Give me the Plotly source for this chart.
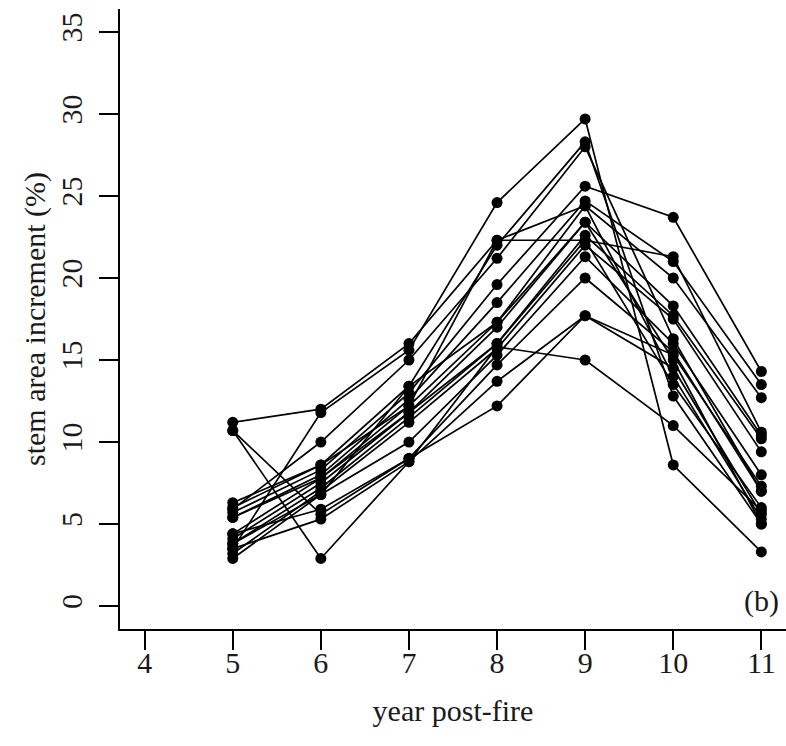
import plotly.graph_objects as go

years = [5, 6, 7, 8, 9, 10, 11]
x_ticks = [4, 5, 6, 7, 8, 9, 10, 11]
y_ticks = [0, 5, 10, 15, 20, 25, 30, 35]

s01 = [11.2, 12.0, 16.0, 22.3, 22.3, 21.3, 10.6]
s02 = [10.7, 2.9, 8.8, 15.8, 15.0, 11.0, 5.8]
s03 = [10.7, 5.6, 9.0, 12.2, 17.7, 15.3, 7.3]
s04 = [3.5, 11.8, 15.6, 24.6, 29.7, 8.6, 3.3]
s05 = [6.3, 8.6, 13.4, 22.0, 28.3, 12.8, 5.0]
s06 = [5.9, 10.0, 15.0, 21.2, 28.0, 16.3, 7.0]
s07 = [5.7, 8.3, 13.0, 19.6, 25.6, 23.7, 14.3]
s08 = [5.4, 8.0, 12.6, 18.5, 24.7, 21.0, 13.5]
s09 = [4.4, 7.8, 12.2, 17.3, 24.4, 20.0, 12.7]
s10 = [4.1, 7.5, 11.8, 17.0, 23.4, 18.3, 10.4]
s11 = [3.8, 7.2, 11.5, 16.0, 22.6, 17.7, 10.2]
s12 = [3.2, 7.0, 11.2, 15.7, 22.0, 17.5, 9.4]
s13 = [2.9, 6.8, 10.0, 15.3, 21.3, 16.0, 8.0]
s14 = [4.4, 5.9, 9.0, 14.7, 20.0, 15.5, 7.0]
s15 = [3.5, 5.3, 8.8, 13.7, 17.7, 14.5, 5.6]
s16 = [6.0, 8.6, 12.2, 22.3, 24.4, 14.0, 5.3]
s17 = [5.4, 7.8, 11.8, 16.0, 22.3, 13.5, 6.0]
s18 = [3.8, 6.8, 13.4, 17.3, 23.4, 15.0, 5.0]

series = [s01, s02, s03, s04, s05, s06, s07, s08, s09,
          s10, s11, s12, s13, s14, s15, s16, s17, s18]

FONT = "Liberation Serif, Times New Roman, serif"
FS = 30

fig = go.Figure()
for s in series:
    fig.add_trace(go.Scatter(
        x=years, y=s, mode="lines+markers",
        line=dict(color="black", width=1.7),
        marker=dict(color="black", size=11),
        showlegend=False, hoverinfo="skip"))

fig.update_layout(
    width=786, height=746,
    margin=dict(l=120, r=0, t=9, b=117),
    paper_bgcolor="white", plot_bgcolor="white",
    font=dict(family=FONT, size=FS, color="#1a1a1a"),
    xaxis=dict(range=[3.72, 11.28], tickvals=x_ticks,
               ticktext=[str(v) for v in x_ticks],
               showgrid=False, zeroline=False,
               showline=True, linecolor="black", linewidth=1.5,
               ticks="outside", ticklen=19, tickwidth=1.5, tickcolor="black",
               ticklabelstandoff=-13,
               title=dict(text="year post-fire", standoff=22,
                          font=dict(family=FONT, size=FS))),
    yaxis=dict(range=[-1.4, 36.4], tickvals=y_ticks,
               ticktext=[str(v) for v in y_ticks],
               showgrid=False, zeroline=False,
               showline=True, linecolor="black", linewidth=1.5,
               ticks="outside", ticklen=19, tickwidth=1.5, tickcolor="black",
               tickangle=-90, ticklabelstandoff=5,
               title=dict(text="stem area increment (%)", standoff=1,
                          font=dict(family=FONT, size=FS))),
)

fig.add_annotation(text="(b)", xref="paper", yref="paper",
                   x=0.992, y=0.045, xanchor="right", yanchor="middle",
                   showarrow=False,
                   font=dict(family=FONT, size=FS, color="#1a1a1a"))

fig.write_html("out.html")
